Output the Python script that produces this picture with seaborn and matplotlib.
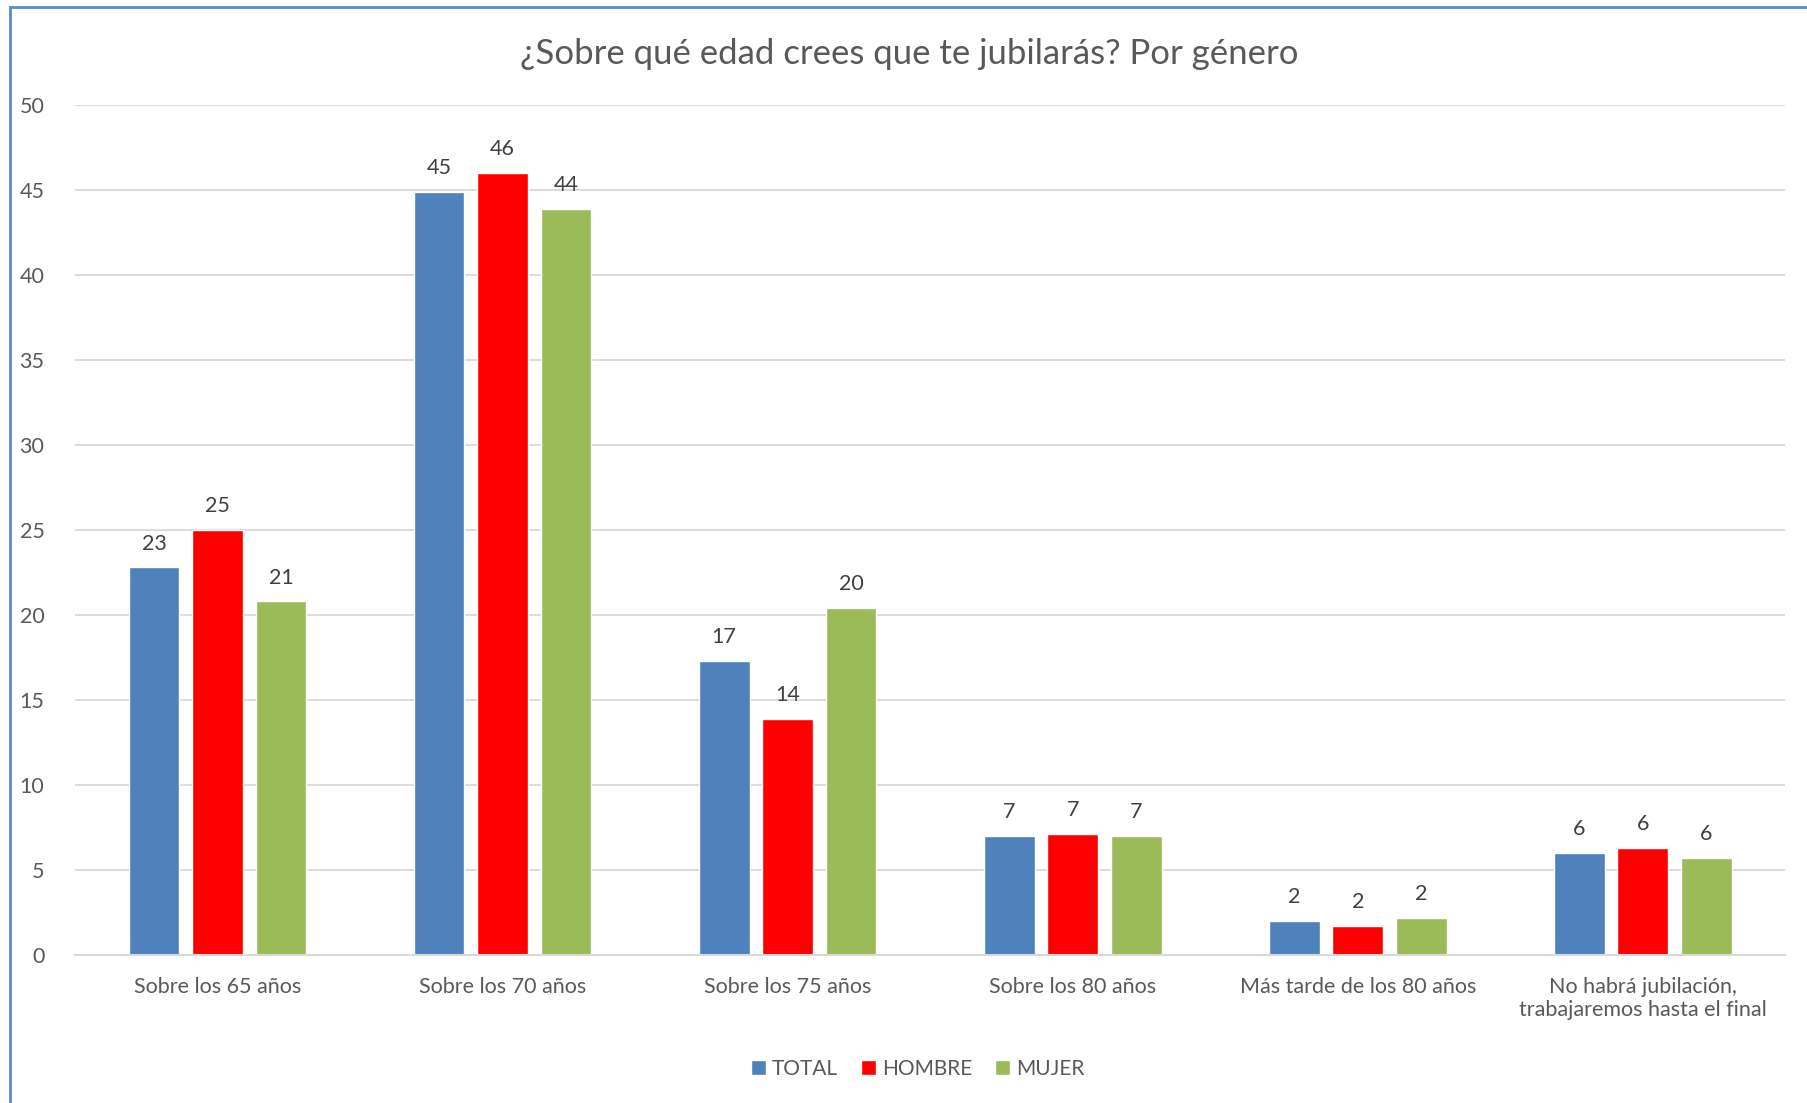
import pandas as pd
import matplotlib.pyplot as plt
import seaborn as sns
from matplotlib.patches import Rectangle

# Datos
categorias = ['Sobre los 65 años', 'Sobre los 70 años', 'Sobre los 75 años',
              'Sobre los 80 años', 'Más tarde de los 80 años',
              'No habrá jubilación,\ntrabajaremos hasta el final']
total = [22.8, 44.9, 17.3, 7.0, 2.0, 6.0]
hombre = [25.0, 46.0, 13.9, 7.1, 1.7, 6.3]
mujer = [20.8, 43.9, 20.4, 7.0, 2.2, 5.7]
series = ['TOTAL', 'HOMBRE', 'MUJER']
colores = ['#4F81BD', '#FF0000', '#9BBB59']

df = pd.DataFrame({'categoria': categorias * 3,
                   'valor': total + hombre + mujer,
                   'serie': [s for s in series for _ in categorias]})

sns.set_style('white')
plt.rcParams['font.family'] = ['Lato', 'DejaVu Sans']
gris = '#595959'

fig = plt.figure(figsize=(18.07, 11.03), dpi=100)
ax = fig.add_axes([0.0415, 0.1342, 0.9465, 0.7706])

sns.barplot(data=df, x='categoria', y='valor', hue='serie', palette=colores,
            width=0.668, gap=0.2, saturation=1, ax=ax, legend=True)

for cont in ax.containers:
    etiquetas = [f'{round(b.get_height()):d}' for b in cont]
    ax.bar_label(cont, labels=etiquetas, padding=10, fontsize=15.5, color='#404040')

ax.set_ylim(0, 50)
ax.set_xlim(-0.5, 5.5)
ax.set_yticks(range(0, 51, 5))
ax.yaxis.grid(True, color='#D9D9D9', linewidth=1.3)
ax.set_axisbelow(True)
for s in ['left', 'right', 'top']:
    ax.spines[s].set_visible(False)
ax.spines['bottom'].set_color('#D9D9D9')
ax.spines['bottom'].set_linewidth(1.5)
ax.tick_params(axis='both', length=0, labelsize=15.5, labelcolor=gris)
ax.tick_params(axis='x', pad=16)
ax.tick_params(axis='y', pad=22)
ax.set_xlabel('')
ax.set_ylabel('')

h, l = ax.get_legend_handles_labels()
ax.get_legend().remove()
fig.legend(h, l, loc='center', bbox_to_anchor=(0.508, 0.031), ncol=3,
           frameon=False, fontsize=15, labelcolor=gris, handlelength=0.7,
           handleheight=0.7, handletextpad=0.3, columnspacing=1.1)

fig.suptitle('¿Sobre qué edad crees que te jubilarás? Por género', x=0.503, y=0.951,
             fontsize=25, color=gris, va='center')

# marco azul del gráfico
fig.add_artist(Rectangle((0.0055, -0.05), 1.1, 1.044, transform=fig.transFigure,
                         fill=False, edgecolor='#5B8BCB', linewidth=2))

plt.savefig('out.png', dpi=100)
